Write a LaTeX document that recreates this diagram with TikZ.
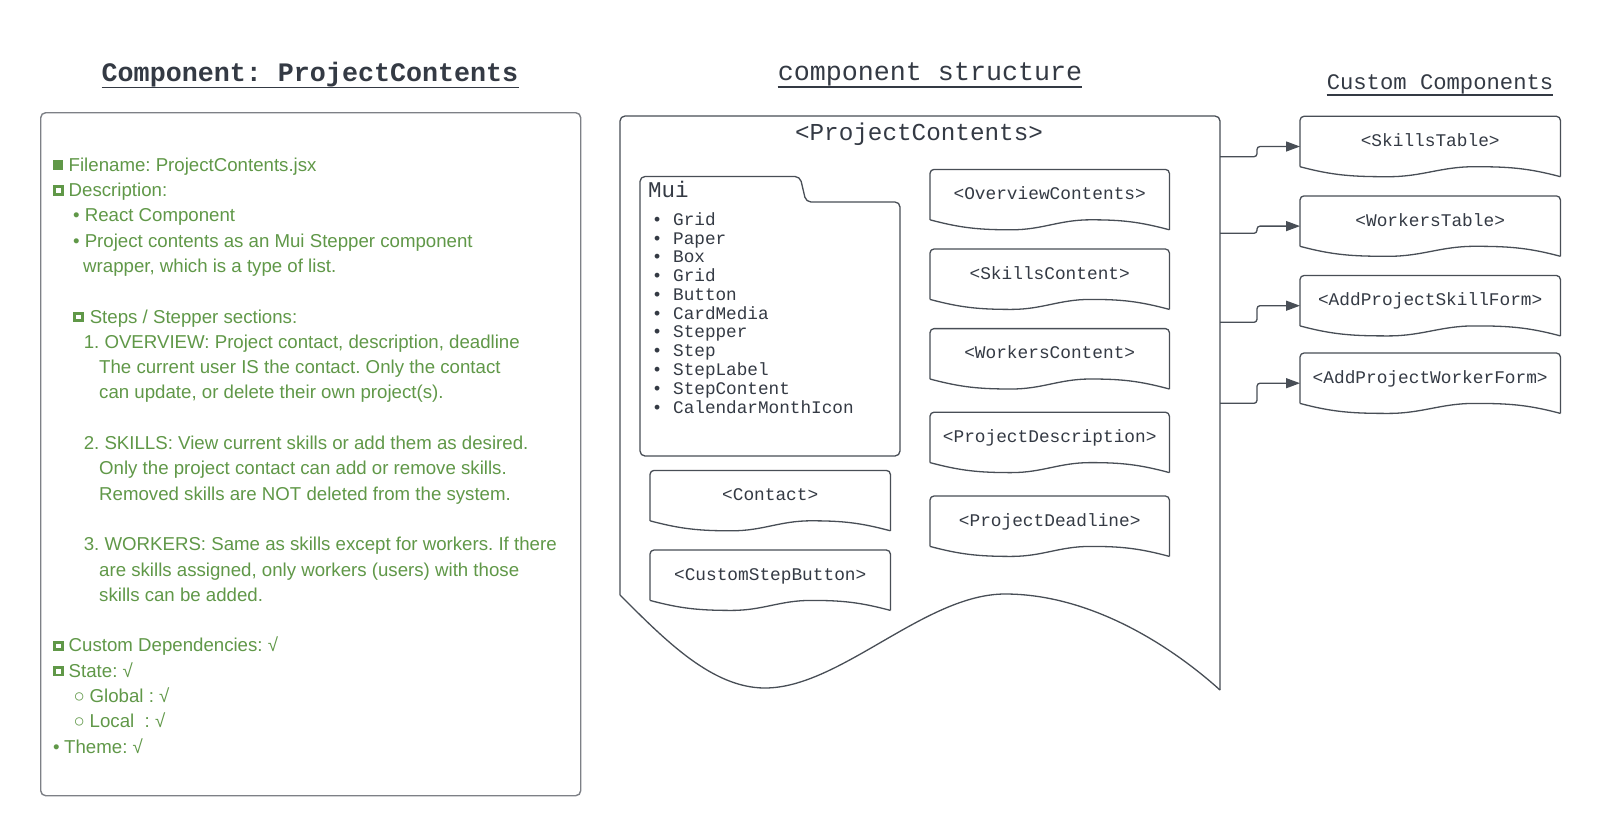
\documentclass[tikz,border=0pt]{standalone}
\usepackage{fontspec}
\setmainfont{Liberation Sans}
\newfontfamily\monof{Liberation Mono}
\usetikzlibrary{arrows.meta,calc}
\definecolor{grn}{RGB}{96,152,72}
\definecolor{ink}{RGB}{52,58,68}
\definecolor{edge}{RGB}{72,78,86}
\definecolor{paneledge}{RGB}{125,128,134}
\frenchspacing
\newcommand\fsq{\raisebox{0.8pt}{\rule{10pt}{10pt}}}
\newcommand\hsq{\raisebox{3.6pt}{\setlength\fboxsep{0pt}\setlength\fboxrule{2.8pt}\fbox{\rule{0pt}{4.8pt}\rule{4.8pt}{0pt}}}}
\tikzset{
  docline/.style={draw=edge, line width=1.3pt, line join=round},
  docnode/.style={draw=none, inner sep=0pt, minimum height=60pt, text height=13pt, text depth=13pt,
    font=\monof\fontsize{17.8}{20}\selectfont, text=ink},
  ttl/.style={inner sep=0pt, text=ink},
  uline/.style={draw=ink, line width=1.4pt},
  conn/.style={draw=edge, line width=1.3pt, -{Triangle[length=14pt,width=10pt]}, rounded corners=3pt},
  panel/.style={draw=paneledge, line width=1.4pt, rounded corners=5pt, inner sep=0pt}
}
\newcommand\docbox[5]{%
  \node[docnode, minimum width=#4pt, anchor=north west] (#1) at (#2,#3) {#5};
  \draw[docline, rounded corners=4pt] ($(#1.south west)+(0,-10)$) -- (#1.north west) -- (#1.north east) -- (#1.south east);
  \draw[docline] (#1.south east) to[out=165,in=0] ($(#1.south west)!0.67!(#1.south east)+(0,-10)$)
     to[out=180,in=0] ($(#1.south west)!0.34!(#1.south east)$)
     to[out=180,in=-15] ($(#1.south west)+(0,-10)$);
}
\begin{document}
\begin{tikzpicture}[x=1pt,y=-1pt]
\fill[white] (0,0) rectangle (1600,836);
\useasboundingbox (0,0) rectangle (1600,836);

% titles
\node[ttl, font=\monof\bfseries\fontsize{26.7}{28}\selectfont, anchor=base] (t1) at (310,81) {Component: ProjectContents};
\draw[uline] ([yshift=-6.5pt]t1.base west) -- ([yshift=-6.5pt]t1.base east);
\node[ttl, font=\monof\fontsize{26.7}{28}\selectfont, anchor=base] (t2) at (930,80) {component structure};
\draw[uline] ([yshift=-7pt]t2.base west) -- ([yshift=-7pt]t2.base east);
\node[ttl, font=\monof\fontsize{22.2}{24}\selectfont, anchor=base] (t3) at (1440,89) {Custom Components};
\draw[uline] ([yshift=-6pt]t3.base west) -- ([yshift=-6pt]t3.base east);

% left panel
\node[panel, minimum width=540pt, minimum height=683pt, anchor=north west] (panel) at (40,112) {};
\node[anchor=north west, align=left, inner sep=0pt, text=grn,
      font=\fontsize{18.66}{25.3}\selectfont] (desc) at (53,153.3) {%
\strut\makebox[15.5pt][l]{\fsq}Filename: ProjectContents.jsx\\
\strut\makebox[15.5pt][l]{\hsq}Description:\\
\strut\hspace*{20pt}\makebox[11.6pt][l]{•}React Component\\
\strut\hspace*{20pt}\makebox[11.6pt][l]{•}Project contents as an Mui Stepper component\\
\strut\hspace*{30pt}wrapper, which is a type of list.\\
\strut\\
\strut\hspace*{20pt}\makebox[16.6pt][l]{\hsq}Steps / Stepper sections:\\
\strut\hspace*{30.6pt}1. OVERVIEW: Project contact, description, deadline\\
\strut\hspace*{46pt}The current user IS the contact. Only the contact\\
\strut\hspace*{46pt}can update, or delete their own project(s).\\
\strut\\
\strut\hspace*{30.6pt}2. SKILLS: View current skills or add them as desired.\\
\strut\hspace*{46pt}Only the project contact can add or remove skills.\\
\strut\hspace*{46pt}Removed skills are NOT deleted from the system.\\
\strut\\
\strut\hspace*{30.6pt}3. WORKERS: Same as skills except for workers. If there\\
\strut\hspace*{46pt}are skills assigned, only workers (users) with those\\
\strut\hspace*{46pt}skills can be added.\\
\strut\\
\strut\makebox[15.5pt][l]{\hsq}Custom Dependencies: √\\
\strut\makebox[15.5pt][l]{\hsq}State: √\\
\strut\hspace*{20.5pt}\makebox[16pt][l]{○}Global : √\\
\strut\hspace*{20.5pt}\makebox[16pt][l]{○}Local\ \ : √\\
\strut\makebox[11pt][l]{•}Theme: √};

% main document shape
\draw[docline, rounded corners=5pt] (620,595) -- (620,116) -- (1220,116) -- (1220,690);
\draw[docline] (620,595) .. controls (665,640) and (712,688) .. (765,688)
   .. controls (840,688) and (925,594) .. (1005,594)
   .. controls (1090,594) and (1170,645) .. (1220,690);
\node[ttl, font=\monof\fontsize{24.3}{26}\selectfont] (pctitle) at (919,134) {<ProjectContents>};

% Mui folder
\draw[docline, rounded corners=5pt] (640,456) -- (640,176.5) -- (800,176.5) -- (806,202) -- (900,202) -- (900,456) -- cycle;
\node[ttl, anchor=base west, font=\monof\fontsize{22.5}{24}\selectfont] (muilabel) at (648,197) {Mui};
\node[ttl, anchor=north west, align=left, font=\monof\fontsize{17.7}{18.78}\selectfont] (muilist) at (651.7,211.9) {%
\strut• Grid\\\strut• Paper\\\strut• Box\\\strut• Grid\\\strut• Button\\\strut• CardMedia\\
\strut• Stepper\\\strut• Step\\\strut• StepLabel\\\strut• StepContent\\\strut• CalendarMonthIcon};

% inner components
\docbox{contact}{650}{470.4}{240}{<Contact>}
\docbox{stepbtn}{650}{550}{240}{<CustomStepButton>}
\docbox{overview}{930}{169.4}{239}{<OverviewContents>}
\docbox{skillsc}{930}{249}{239}{<SkillsContent>}
\docbox{workersc}{930}{328.6}{239}{<WorkersContent>}
\docbox{pdesc}{930}{412.2}{239}{<ProjectDescription>}
\docbox{pdead}{930}{496}{239}{<ProjectDeadline>}

% custom components
\docbox{ct1}{1300}{116.3}{260}{<SkillsTable>}
\docbox{ct2}{1300}{195.9}{260}{<WorkersTable>}
\docbox{ct3}{1300}{275.5}{260}{<AddProjectSkillForm>}
\docbox{ct4}{1300}{353}{260}{<AddProjectWorkerForm>}

% connectors
\coordinate (s1) at (1220,156.7);
\coordinate (s2) at (1220,233.3);
\coordinate (s3) at (1220,322.3);
\coordinate (s4) at (1220,403.3);
\draw[conn] (s1) -- ++(37,0) |- (ct1.west);
\draw[conn] (s2) -- ++(37,0) |- (ct2.west);
\draw[conn] (s3) -- ++(37,0) |- (ct3.west);
\draw[conn] (s4) -- ++(37,0) |- (ct4.west);
\end{tikzpicture}
\end{document}
